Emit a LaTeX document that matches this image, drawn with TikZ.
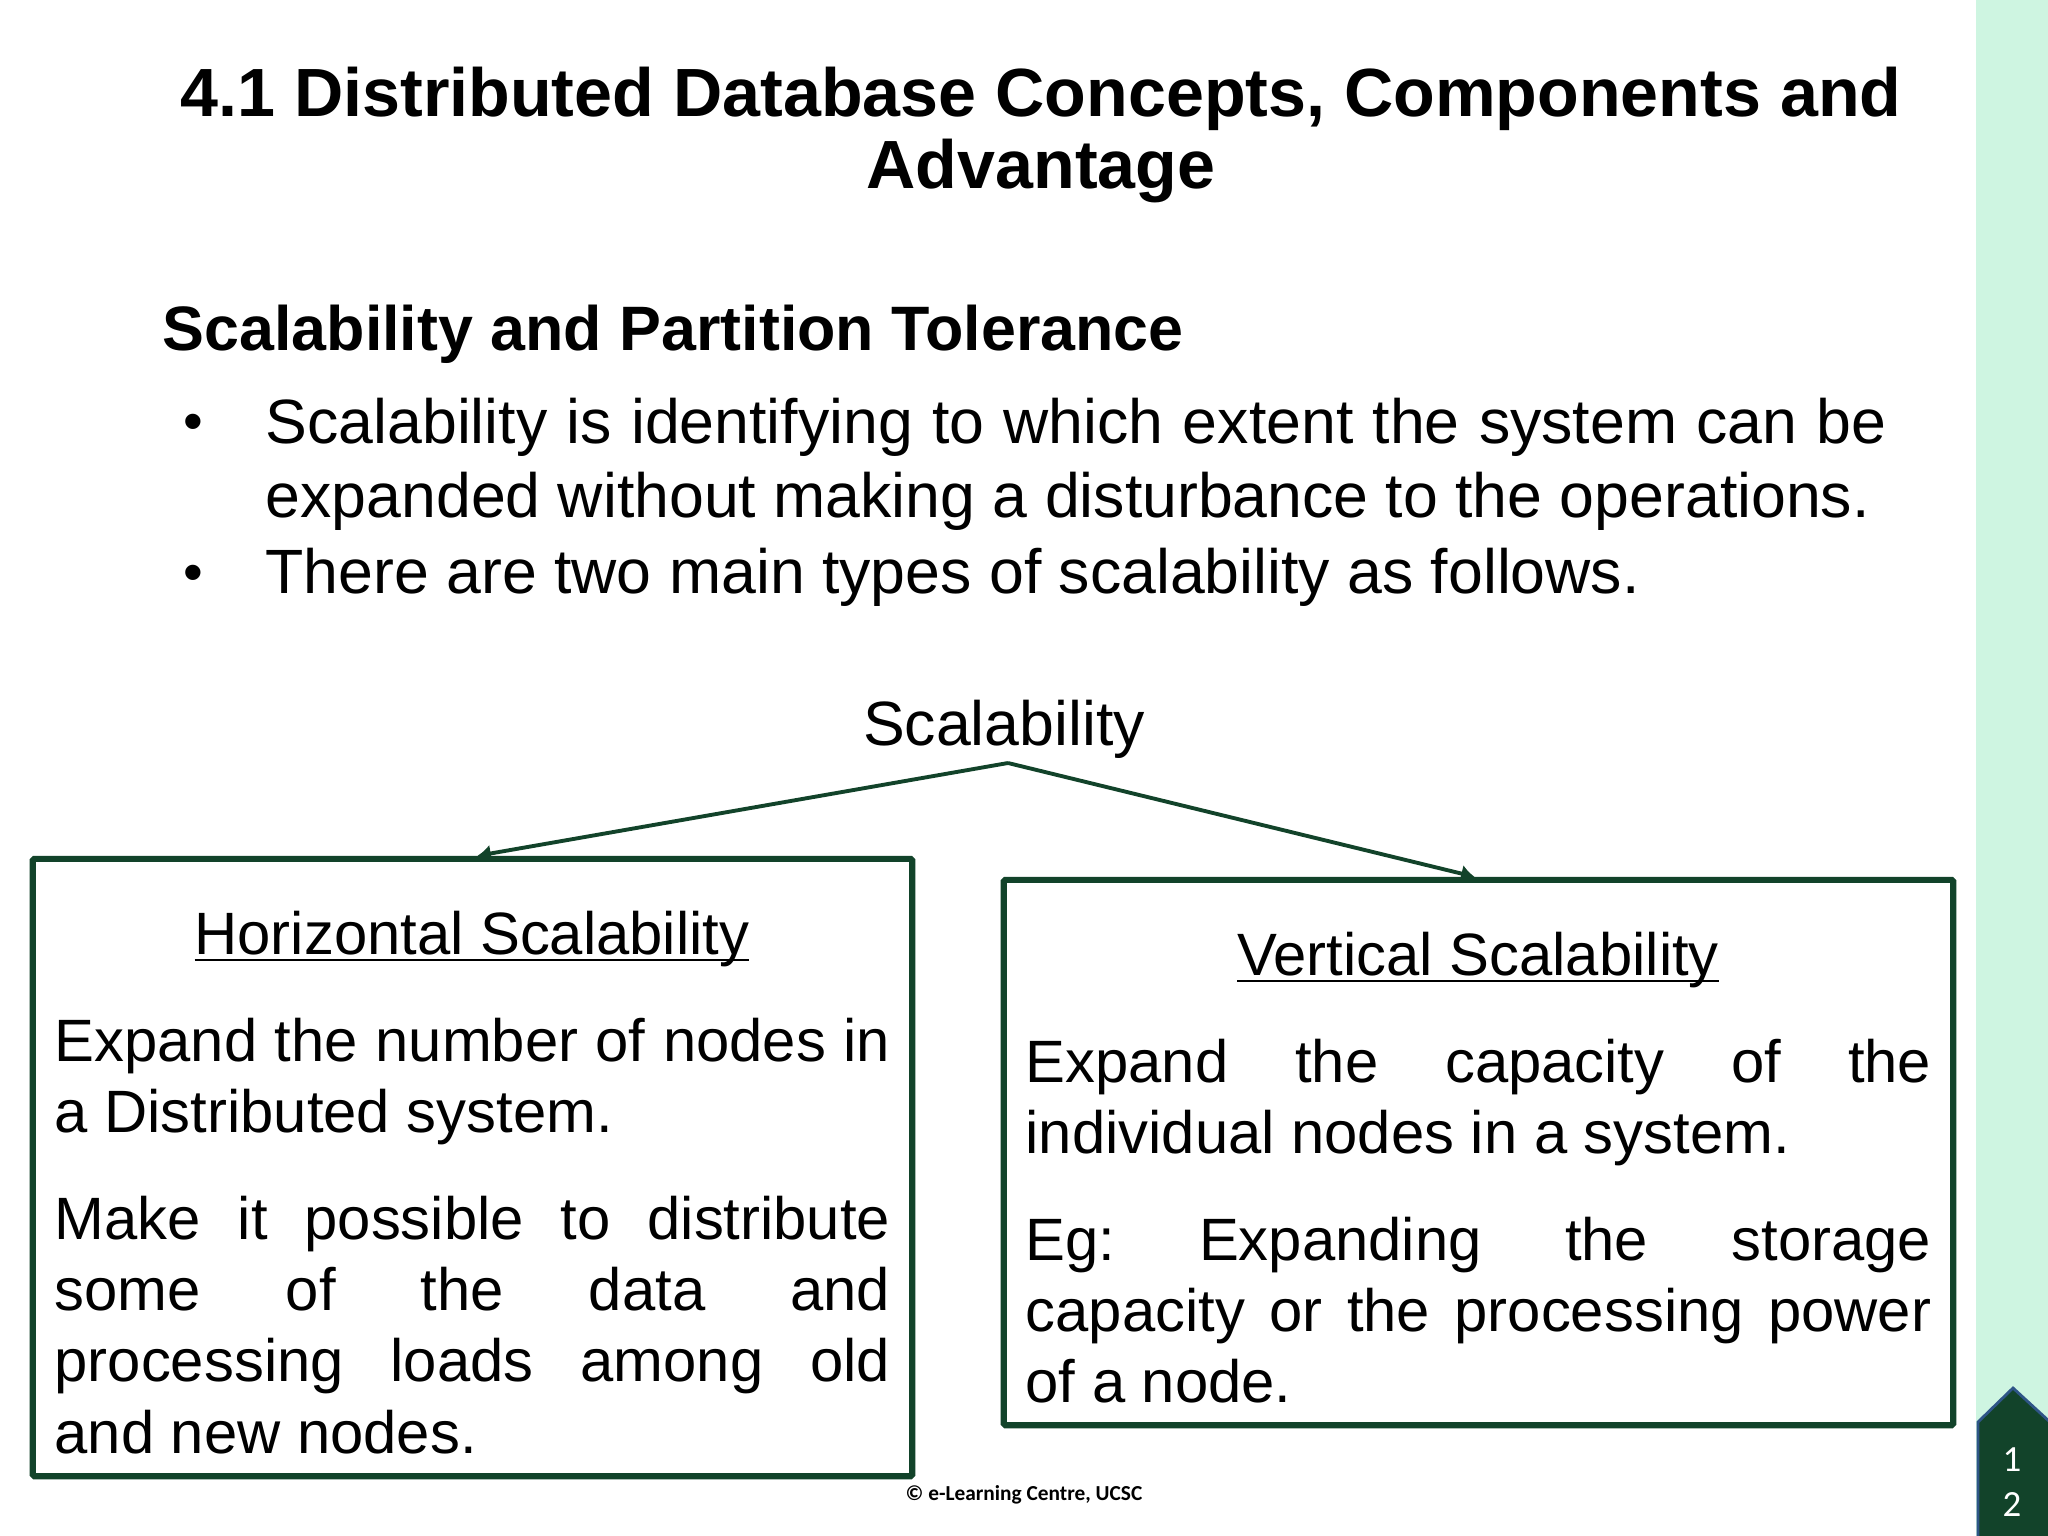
\documentclass[tikz,border=0pt]{standalone}
\usepackage{fontspec}
\setmainfont{Liberation Sans}
\newfontfamily\footfont{Carlito}
\newcommand{\headline}[1]{\sbox0{#1}\rlap{\rule[-2pt]{\wd0}{0.7pt}}\box0}
\definecolor{darkgreen}{HTML}{12432A}
\definecolor{sidegreen}{HTML}{CEF5E1}
\definecolor{tagblue}{HTML}{2F5587}
\usetikzlibrary{arrows.meta}
\tikzset{
  titletext/.style={font=\fontsize{19.4}{20.5}\selectfont\bfseries, align=center, inner sep=0pt},
  headtext/.style={font=\fontsize{17.85}{19}\selectfont\bfseries, anchor=base west, inner sep=0pt},
  bodytext/.style={font=\fontsize{17.8}{21.2}\selectfont\frenchspacing, anchor=north west, inner sep=0pt, align=justify, text width=16.2cm},
  bullettext/.style={font=\fontsize{16}{19}\selectfont, anchor=base west, inner sep=0pt},
  boxtext/.style={font=\fontsize{17}{20.3}\selectfont\frenchspacing, anchor=north west, inner sep=0pt, align=justify},
  boxhead/.style={font=\fontsize{17}{20.3}\selectfont, anchor=base, inner sep=0pt},
  typebox/.style={draw=darkgreen, line width=1.75pt, rounded corners=0.5pt, inner sep=0pt},
  link/.style={draw=darkgreen, line width=1.1pt, -{Latex[length=3.8pt,width=5pt]}},
}
\begin{document}
\begin{tikzpicture}[x=0.01cm, y=-0.01cm]
\useasboundingbox (0,0) rectangle (2048,1536);
\fill[white] (0,0) rectangle (2048,1536);

% side bar and page tag
\fill[sidegreen] (1976,0) rectangle (2048,1536);
\draw[fill=darkgreen, draw=tagblue, line width=0.8pt] (1978,1540) -- (1978,1422) -- (2013,1388) -- (2050,1422) -- (2050,1540) -- cycle;
\node[text=white, font=\fontsize{10.5}{12.8}\footfont\selectfont, align=center, inner sep=0pt] (pagenum) at (2012,1482) {1\\2};

% title and text
\node[titletext] (title) at (1041,135) {4.1 Distributed Database Concepts, Components and\\Advantage};
\node[headtext] (head) at (162,350) {Scalability and Partition Tolerance};
\node[bullettext] (bulleta) at (183,440) {•};
\node[bodytext] (linesa) at (265,397) {Scalability is identifying to which extent the system can be\linebreak expanded without making a disturbance to the operations.};
\node[bullettext] (bulletb) at (183,591) {•};
\node[bodytext] (linesb) at (265,547) {There are two main types of scalability as follows.};

% the two boxes
\node[font=\fontsize{17.8}{21}\selectfont, anchor=base, inner sep=0pt] (scal) at (1004,745) {Scalability};
\coordinate (apex) at (1008,763);
\node[typebox, minimum width=8.79cm, minimum height=6.17cm] (hbox) at (472.5,1167.5) {};
\node[typebox, minimum width=9.49cm, minimum height=5.45cm] (vbox) at (1478.5,1152.5) {};
\draw[link] (apex) -- ([xshift=0.05cm]hbox.north);
\draw[link] (apex) -- ([xshift=-0.04cm]vbox.north);

\node[boxhead] (hhead) at (472,954) {\headline{Horizontal Scalability}};
\node[boxtext, text width=8.35cm] (hone) at (54,1017) {Expand the number of nodes in\linebreak a Distributed system.};
\node[boxtext, text width=8.35cm] (htwo) at (54,1195) {Make it possible to distribute\linebreak some of the data and\linebreak processing loads among old\linebreak and new nodes.};

\node[boxhead] (vhead) at (1478,975) {\headline{Vertical Scalability}};
\node[boxtext, text width=9.05cm] (vone) at (1025,1038) {Expand the capacity of the\linebreak individual nodes in a system.};
\node[boxtext, text width=9.05cm] (vtwo) at (1025,1216) {Eg: Expanding the storage\linebreak capacity or the processing power\linebreak of a node.};

\node[font=\fontsize{6.07}{7}\footfont\bfseries\selectfont, inner sep=0pt] (foot) at (1024,1495) {© e-Learning Centre, UCSC};
\end{tikzpicture}
\end{document}
